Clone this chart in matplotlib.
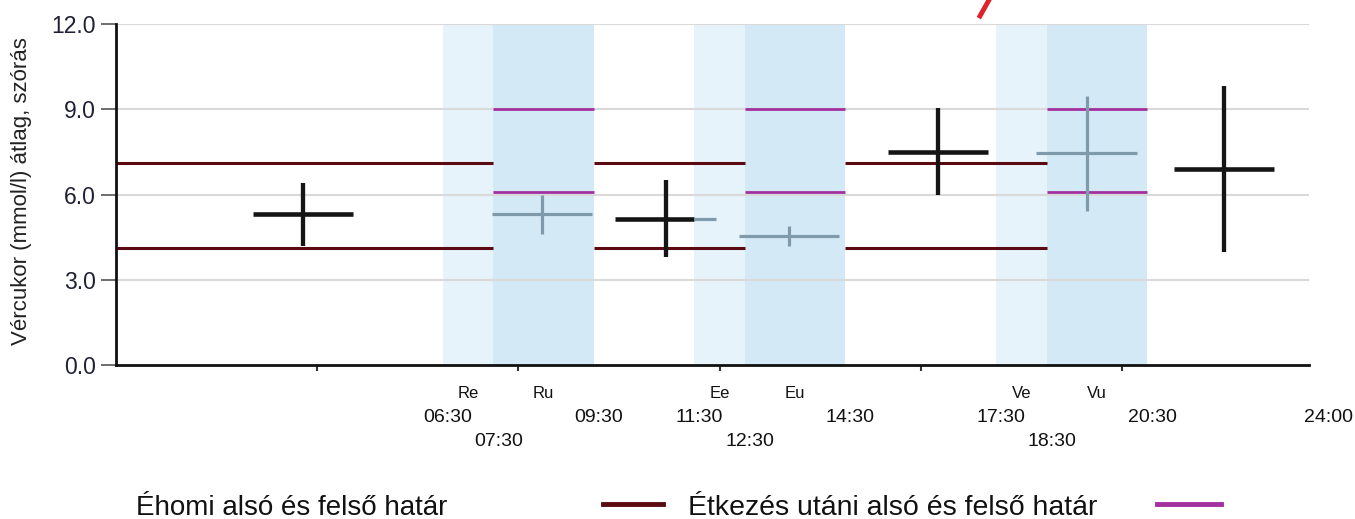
import matplotlib
matplotlib.use("Agg")
import matplotlib.pyplot as plt
from matplotlib.lines import Line2D
from matplotlib import font_manager
import matplotlib.transforms as mtransforms

# ---------------- data ----------------
cross_times = [3.72, 8.47, 10.93, 13.38, 16.34, 19.30, 22.03]   # hours
cross_means = [5.30, 5.30, 5.15, 4.55, 7.50, 7.45, 6.90]        # mmol/l
cross_sds = [1.10, 0.68, 1.35, 0.35, 1.53, 2.03, 2.92]

pre_meal_windows = [(6.5, 7.5), (11.5, 12.5), (17.5, 18.5)]
post_meal_windows = [(7.5, 9.5), (12.5, 14.5), (18.5, 20.5)]
meal_labels_pre = ["Re", "Ee", "Ve"]
meal_labels_post = ["Ru", "Eu", "Vu"]

fasting_limits = [4.1, 7.1]
fasting_segments = [(0, 7.5), (9.5, 12.5), (14.5, 18.5)]
post_limits = [6.1, 9.0]
post_segments = [(7.5, 9.5), (12.5, 14.5), (18.5, 20.5)]

row1_ticks = [6.5, 9.5, 11.5, 14.5, 17.5, 20.5, 24.0]
row1_labels = ["06:30", "09:30", "11:30", "14:30", "17:30", "20:30", "24:00"]
row2_ticks = [7.5, 12.5, 18.5]
row2_labels = ["07:30", "12:30", "18:30"]

y_ticks = [0.0, 3.0, 6.0, 9.0, 12.0]
y_label = "Vércukor (mmol/l) átlag, szórás"
legend_fasting = "Éhomi alsó és felső határ"
legend_post = "Étkezés utáni alsó és felső határ"

# ---------------- fonts ----------------
names = {f.name for f in font_manager.fontManager.ttflist}
base_font = "Liberation Sans" if "Liberation Sans" in names else "DejaVu Sans"
narrow_font = "Liberation Sans Narrow" if "Liberation Sans Narrow" in names else base_font
plt.rcParams["font.family"] = [base_font, "DejaVu Sans"]

W, H = 1355, 519
fig = plt.figure(figsize=(W / 100, H / 100), dpi=100)
ax_left, ax_bottom = 116 / W, (H - 365) / H
ax_w = (24 * 50.3) / W
ax_h = (365 - 24) / H
ax = fig.add_axes([ax_left, ax_bottom, ax_w, ax_h])
ax.set_xlim(0, 24)
ax.set_ylim(0, 12)

x_end = 23.72
DARK_RED = "#5a0a10"
MAGENTA = "#a2309f"
BLACK = "#151515"
GRAY = "#7f9bab"

# bands
for a, b in pre_meal_windows:
    ax.axvspan(a, b, ymin=0, ymax=1, color="#e6f3fb", lw=0, zorder=0)
for a, b in post_meal_windows:
    ax.axvspan(a, b, ymin=0, ymax=1, color="#d4e9f6", lw=0, zorder=0)

# grid lines
for yv in y_ticks[1:]:
    ax.hlines(yv, 0, x_end, color="#d9d9d9", lw=1.5, zorder=1)

# limits
for a, b in fasting_segments:
    for yv in fasting_limits:
        ax.hlines(yv, a, b, color=DARK_RED, lw=2.2, zorder=2)
for a, b in post_segments:
    for yv in post_limits:
        ax.hlines(yv, a, b, color=MAGENTA, lw=2.0, zorder=2)

# crosses
windows = sorted(pre_meal_windows + post_meal_windows)
merged = []
for a, b in windows:
    if merged and abs(merged[-1][1] - a) < 1e-9:
        merged[-1] = (merged[-1][0], b)
    else:
        merged.append((a, b))


def in_band(x):
    return any(a <= x <= b for a, b in merged)


half = 1.0
for t, m, s in zip(cross_times, cross_means, cross_sds):
    x0, x1 = t - half, t + half
    cuts = sorted({x0, x1} | {v for ab in merged for v in ab if x0 < v < x1})
    for a, b in zip(cuts[:-1], cuts[1:]):
        inside = in_band((a + b) / 2)
        ax.plot([a, b], [m, m], color=GRAY if inside else BLACK,
                lw=2.3 if inside else 3.3, solid_capstyle="butt", zorder=4)
    inside = in_band(t)
    ax.plot([t, t], [m - s, m + s], color=GRAY if inside else BLACK,
            lw=2.3 if inside else 3.1, solid_capstyle="butt", zorder=4)

# spines
for sp in ["top", "right"]:
    ax.spines[sp].set_visible(False)
ax.spines["left"].set_linewidth(2)
ax.spines["bottom"].set_linewidth(2)
ax.spines["left"].set_color("#111111")
ax.spines["bottom"].set_color("#111111")
ax.spines["bottom"].set_bounds(0, x_end)

ax.set_yticks(y_ticks)
ax.set_yticklabels([f"{v:.1f}" for v in y_ticks], fontsize=16.5, color="#202035",
                   family=[narrow_font, base_font])
ax.tick_params(axis="y", length=11, width=1.2, color="#555555", pad=3.5)
ax.set_xticks([4, 8, 12, 16, 20])
ax.set_xticklabels([])
ax.tick_params(axis="x", length=4, width=1.5, color="#333333", direction="out")

fig.text(22 / W, (H - 191) / H, y_label, rotation=90,
         ha="center", va="center", fontsize=16, color="#222222")

# x labels
off = mtransforms.offset_copy(ax.transData, fig=fig, x=5, y=0, units="dots")
blend = mtransforms.blended_transform_factory(off, fig.transFigure)
for t, lab in zip(row1_ticks, row1_labels):
    ax.text(t, (H - 417) / H, lab, transform=blend, ha="center", va="center",
            fontsize=14, family=[narrow_font, base_font], color="#111111")
for t, lab in zip(row2_ticks, row2_labels):
    ax.text(t, (H - 442) / H, lab, transform=blend, ha="center", va="center",
            fontsize=14, family=[narrow_font, base_font], color="#111111")
blend0 = mtransforms.blended_transform_factory(ax.transData, fig.transFigure)
for (a, b), lab in zip(pre_meal_windows, meal_labels_pre):
    ax.text((a + b) / 2, (H - 394) / H, lab, transform=blend0, ha="center",
            va="center", fontsize=12, family=[narrow_font, base_font], color="#111111")
for (a, b), lab in zip(post_meal_windows, meal_labels_post):
    ax.text((a + b) / 2, (H - 394) / H, lab, transform=blend0, ha="center",
            va="center", fontsize=12, family=[narrow_font, base_font], color="#111111")

# legend (manual)
ly = (H - 515) / H
fig.text(136 / W, ly, legend_fasting, ha="left", va="baseline", fontsize=20,
         family=[narrow_font, base_font], color="#111111")
fig.add_artist(Line2D([603 / W, 663 / W], [(H - 504) / H] * 2, color=DARK_RED,
                      lw=3.5, transform=fig.transFigure))
fig.text(688 / W, ly, legend_post, ha="left", va="baseline", fontsize=20.5,
         family=[narrow_font, base_font], color="#111111")
fig.add_artist(Line2D([1157 / W, 1221 / W], [(H - 504) / H] * 2, color=MAGENTA,
                      lw=3.5, transform=fig.transFigure))

# red stroke fragment at top
fig.add_artist(Line2D([989 / W, 980 / W], [1.0, (H - 16) / H], color="#e0202a",
                      lw=3.5, transform=fig.transFigure))

fig.savefig("out.png", dpi=100)
